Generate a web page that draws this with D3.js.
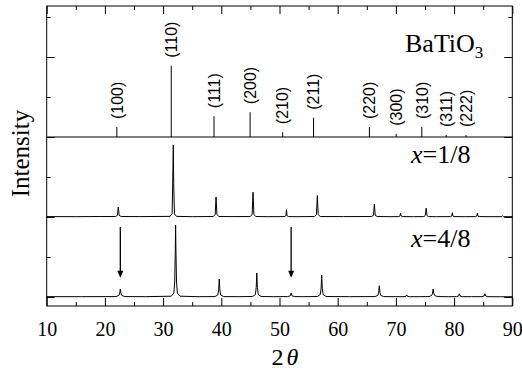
<!DOCTYPE html>
<html>
<head>
<meta charset="utf-8">
<script src="https://cdn.jsdelivr.net/npm/d3@7/dist/d3.min.js"></script>
<style>
  html, body { margin: 0; padding: 0; background: #fff; }
  svg { display: block; }
</style>
</head>
<body>
<script>
// ---------------- data ----------------
const xTicksMajor = [10, 20, 30, 40, 50, 60, 70, 80, 90];
const xTicksMinor = [15, 25, 35, 45, 55, 65, 75, 85];
const yTicksMajor = [0, 1, 2, 3];
const yTicksMinor = [0.5, 1.5, 2.5, 3.5];

// reference BaTiO3 pattern (stick positions, relative intensities, Miller indices)
const hkl = ["(100)", "(110)", "(111)", "(200)", "(210)", "(211)", "(220)", "(300)", "(310)", "(311)", "(222)"];
const stickTwoTheta = [22.05, 31.4, 38.75, 44.95, 50.55, 55.85, 65.45, 70.05, 74.45, 78.65, 82.05];
const stickIntensity = [0.125, 0.89, 0.26, 0.31, 0.06, 0.24, 0.125, 0.04, 0.125, 0.025, 0.025];

// measured pattern x = 1/8  ([2theta, intensity])
const patternX18 = [
  [10, 0.005], [15, 0.004], [19, 0.006], [21.8, 0.006], [22.15, 0.02], [22.3, 0.125], [22.45, 0.02], [22.8, 0.006],
  [26, 0.005], [31.2, 0.008], [31.55, 0.04], [31.66, 0.45], [31.75, 0.9], [31.82, 0.42], [31.95, 0.04], [32.3, 0.008],
  [35, 0.004], [38.6, 0.006], [38.95, 0.03], [39.1, 0.25], [39.25, 0.03], [39.6, 0.006],
  [42, 0.005], [44.95, 0.006], [45.3, 0.03], [45.45, 0.31], [45.6, 0.03], [45.95, 0.006],
  [48, 0.004], [50.8, 0.005], [51.1, 0.015], [51.2, 0.09], [51.3, 0.015], [51.6, 0.005],
  [53, 0.004], [56.0, 0.006], [56.35, 0.03], [56.5, 0.27], [56.65, 0.03], [57.0, 0.006],
  [61, 0.005], [65.8, 0.006], [66.15, 0.02], [66.3, 0.16], [66.45, 0.02], [66.8, 0.006],
  [69, 0.004], [70.5, 0.005], [70.7, 0.012], [70.8, 0.05], [70.9, 0.012], [71.1, 0.005],
  [73, 0.004], [74.8, 0.005], [75.05, 0.018], [75.2, 0.11], [75.35, 0.018], [75.6, 0.005],
  [77, 0.004], [79.4, 0.005], [79.6, 0.012], [79.7, 0.055], [79.8, 0.012], [80.0, 0.005],
  [82, 0.004], [83.7, 0.005], [83.9, 0.012], [84.0, 0.05], [84.1, 0.012], [84.3, 0.005],
  [86, 0.004], [88.1, 0.004], [88.3, 0.015], [88.5, 0.004], [90, 0.004]
];

// measured pattern x = 4/8  ([2theta, intensity])
const patternX48 = [
  [10, 0.004], [16, 0.004], [21.9, 0.005], [22.4, 0.02], [22.55, 0.05], [22.65, 0.10], [22.75, 0.05], [22.9, 0.02], [23.4, 0.005],
  [27, 0.004], [31.4, 0.01], [31.85, 0.05], [32.0, 0.2], [32.1, 0.6], [32.15, 0.9], [32.2, 0.6], [32.3, 0.2], [32.45, 0.05], [32.9, 0.01],
  [36, 0.004], [38.9, 0.005], [39.4, 0.025], [39.55, 0.09], [39.65, 0.225], [39.75, 0.09], [39.9, 0.025], [40.4, 0.005],
  [43, 0.004], [45.35, 0.006], [45.85, 0.03], [46.0, 0.12], [46.1, 0.30], [46.2, 0.12], [46.35, 0.03], [46.85, 0.006],
  [49, 0.004], [51.4, 0.005], [51.85, 0.015], [52.0, 0.05], [52.15, 0.015], [52.6, 0.005],
  [54, 0.004], [56.5, 0.006], [57.0, 0.03], [57.15, 0.11], [57.25, 0.275], [57.35, 0.11], [57.5, 0.03], [58.0, 0.006],
  [62, 0.004], [66.4, 0.005], [66.9, 0.02], [67.05, 0.06], [67.15, 0.14], [67.25, 0.06], [67.4, 0.02], [67.9, 0.005],
  [70, 0.004], [71.4, 0.004], [71.75, 0.01], [71.85, 0.025], [71.95, 0.01], [72.3, 0.004],
  [74, 0.004], [75.7, 0.005], [76.15, 0.02], [76.3, 0.05], [76.4, 0.10], [76.5, 0.05], [76.65, 0.02], [77.1, 0.005],
  [79, 0.004], [80.4, 0.004], [80.75, 0.012], [80.9, 0.04], [81.05, 0.012], [81.4, 0.004],
  [83, 0.004], [84.8, 0.004], [85.15, 0.012], [85.3, 0.04], [85.45, 0.012], [85.8, 0.004],
  [88, 0.003], [90, 0.003]
];

// arrows marking peaks of x = 4/8
const arrowTwoTheta = [22.65, 52.0];

// ---------------- drawing ----------------
(function () {
const W = 522, H = 373;
const serif = "'Liberation Serif', 'Times New Roman', Times, serif";
const sans = "'Liberation Sans', Arial, Helvetica, sans-serif";

const svg = d3.select("body").append("svg").attr("width", W).attr("height", H);

const x = d3.scaleLinear().domain([10, 90]).range([46.7, 512.3]);
const y = d3.scaleLinear().domain([-0.1125, 3.6375]).range([306, 6]);

const pLeft = x.range()[0], pRight = x.range()[1];
const pTop = y.range()[1], pBottom = y.range()[0];

// offsets of the three stacked panels on the y axis
const offX48 = 0, offX18 = 1, offRef = 2;

function styleAxis(g) {
  g.select(".domain").remove();
  g.selectAll("line").attr("stroke", "#000").attr("stroke-width", 1);
  g.selectAll("text").attr("font-family", serif).attr("font-size", 20).attr("fill", "#000");
}

// bottom axis
svg.append("g").attr("transform", `translate(0,${pBottom})`)
  .call(d3.axisBottom(x).tickValues(xTicksMajor).tickSizeInner(-8).tickSizeOuter(0).tickPadding(16).tickFormat(d3.format("d")))
  .call(styleAxis);
svg.append("g").attr("transform", `translate(0,${pBottom})`)
  .call(d3.axisBottom(x).tickValues(xTicksMinor).tickSizeInner(-4).tickSizeOuter(0).tickFormat(""))
  .call(styleAxis);
// top axis
svg.append("g").attr("transform", `translate(0,${pTop})`)
  .call(d3.axisTop(x).tickValues(xTicksMajor).tickSizeInner(-8).tickSizeOuter(0).tickFormat(""))
  .call(styleAxis);
svg.append("g").attr("transform", `translate(0,${pTop})`)
  .call(d3.axisTop(x).tickValues(xTicksMinor).tickSizeInner(-4).tickSizeOuter(0).tickFormat(""))
  .call(styleAxis);
// left axis
svg.append("g").attr("transform", `translate(${pLeft},0)`)
  .call(d3.axisLeft(y).tickValues(yTicksMajor).tickSizeInner(-8).tickSizeOuter(0).tickFormat(""))
  .call(styleAxis);
svg.append("g").attr("transform", `translate(${pLeft},0)`)
  .call(d3.axisLeft(y).tickValues(yTicksMinor).tickSizeInner(-4).tickSizeOuter(0).tickFormat(""))
  .call(styleAxis);
// right axis
svg.append("g").attr("transform", `translate(${pRight},0)`)
  .call(d3.axisRight(y).tickValues(yTicksMajor).tickSizeInner(-8).tickSizeOuter(0).tickFormat(""))
  .call(styleAxis);
svg.append("g").attr("transform", `translate(${pRight},0)`)
  .call(d3.axisRight(y).tickValues(yTicksMinor).tickSizeInner(-4).tickSizeOuter(0).tickFormat(""))
  .call(styleAxis);

// frame
svg.append("rect")
  .attr("x", pLeft).attr("y", pTop)
  .attr("width", pRight - pLeft).attr("height", pBottom - pTop)
  .attr("fill", "none").attr("stroke", "#000").attr("stroke-width", 1);

// reference stick pattern
svg.append("line")
  .attr("x1", x(10)).attr("x2", x(90))
  .attr("y1", y(offRef)).attr("y2", y(offRef))
  .attr("stroke", "#000").attr("stroke-width", 1);

const sticks = stickTwoTheta.map((t, i) => ({ t, h: stickIntensity[i], label: hkl[i] }));

svg.append("g").selectAll("line").data(sticks).join("line")
  .attr("x1", d => x(d.t)).attr("x2", d => x(d.t))
  .attr("y1", y(offRef)).attr("y2", d => y(offRef + d.h))
  .attr("stroke", "#000").attr("stroke-width", 1);

svg.append("g").selectAll("text").data(sticks).join("text")
  .attr("transform", d => `translate(${x(d.t)},${y(offRef + d.h) - 8}) rotate(-90)`)
  .attr("dy", "0.36em")
  .attr("text-anchor", "start")
  .attr("font-family", sans).attr("font-size", 16).attr("fill", "#000")
  .text(d => d.label);

// measured traces
const line = off => d3.line().x(d => x(d[0])).y(d => y(off + d[1]));

svg.append("path").datum(patternX18)
  .attr("d", line(offX18))
  .attr("fill", "none").attr("stroke", "#000").attr("stroke-width", 1);

svg.append("path").datum(patternX48)
  .attr("d", line(offX48))
  .attr("fill", "none").attr("stroke", "#000").attr("stroke-width", 1);

// arrows
const arrowTop = y(offX48 + 0.875), arrowTip = y(offX48 + 0.24);
const arrows = svg.append("g").selectAll("g").data(arrowTwoTheta).join("g");
arrows.append("line")
  .attr("x1", d => x(d)).attr("x2", d => x(d))
  .attr("y1", arrowTop).attr("y2", arrowTip - 5)
  .attr("stroke", "#000").attr("stroke-width", 1.3);
arrows.append("path")
  .attr("d", d => `M${x(d) - 3},${arrowTip - 7} L${x(d) + 3},${arrowTip - 7} L${x(d)},${arrowTip} Z`)
  .attr("fill", "#000");

// annotations
const t1 = svg.append("text").attr("x", 405).attr("y", 52)
  .attr("font-family", serif).attr("font-size", 26).attr("fill", "#000");
t1.append("tspan").text("BaTiO");
t1.append("tspan").attr("font-size", 17).attr("dy", 5.5).text("3");

const t2 = svg.append("text").attr("x", 411).attr("y", 163)
  .attr("font-family", serif).attr("font-size", 26).attr("fill", "#000");
t2.append("tspan").attr("font-style", "italic").text("x");
t2.append("tspan").text("=1/8");

const t3 = svg.append("text").attr("x", 411).attr("y", 247)
  .attr("font-family", serif).attr("font-size", 26).attr("fill", "#000");
t3.append("tspan").attr("font-style", "italic").text("x");
t3.append("tspan").text("=4/8");

// axis titles
const xt = svg.append("text").attr("x", 285).attr("y", 365).attr("text-anchor", "middle")
  .attr("font-family", serif).attr("font-size", 24).attr("fill", "#000");
xt.append("tspan").text("2");
xt.append("tspan").attr("font-style", "italic").attr("dx", 3).text("θ");

svg.append("text")
  .attr("transform", `translate(29,153.5) rotate(-90)`)
  .attr("text-anchor", "middle")
  .attr("font-family", serif).attr("font-size", 25).attr("fill", "#000")
  .text("Intensity");
})();
</script>
</body>
</html>
